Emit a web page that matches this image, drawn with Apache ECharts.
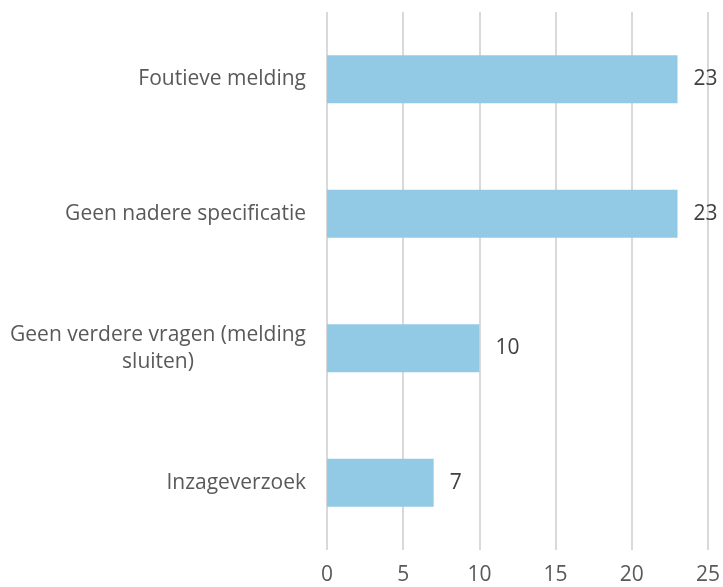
<!DOCTYPE html>
<html>
<head>
<meta charset="utf-8">
<script src="https://cdn.jsdelivr.net/npm/echarts@6/dist/echarts.min.js"></script>
<style>
  html, body { margin: 0; padding: 0; background: #fff; }
  #chart { width: 723px; height: 587px; }
</style>
</head>
<body>
<div id="chart"></div>
<script>
const categories = [
  "Foutieve melding",
  "Geen nadere specificatie",
  "Geen verdere vragen (melding\nsluiten)",
  "Inzageverzoek"
];
const values = [23, 23, 10, 7];
const axisMax = 25;
const axisStep = 5;

const chart = echarts.init(document.getElementById("chart"));
const font = "'Open Sans', sans-serif";

chart.setOption({
  animation: false,
  grid: { left: 327, top: 12, width: 381, height: 538, containLabel: false },
  xAxis: {
    type: "value",
    min: 0,
    max: axisMax,
    interval: axisStep,
    axisLine: { show: false },
    axisTick: { show: false },
    splitLine: { lineStyle: { color: "#d9d9d9", width: 2 } },
    axisLabel: { color: "#595959", fontSize: 21, fontFamily: font, margin: 15 }
  },
  yAxis: {
    type: "category",
    data: categories.slice().reverse(),
    axisLine: { show: false },
    axisTick: { show: false },
    axisLabel: {
      color: "#595959",
      fontSize: 21,
      fontFamily: font,
      margin: 21,
      lineHeight: 27,
      formatter: v => "{c|" + v.split("\n").join("}\n{c|") + "}",
      rich: { c: { align: "center", fontSize: 21, fontFamily: font, color: "#595959", lineHeight: 27 } }
    }
  },
  series: [{
    type: "bar",
    data: values.slice().reverse(),
    barWidth: 48,
    itemStyle: { color: "#92cae6" },
    label: {
      show: true,
      position: "right",
      distance: 16,
      color: "#404040",
      fontSize: 21,
      fontFamily: font
    }
  }]
});
</script>
</body>
</html>
